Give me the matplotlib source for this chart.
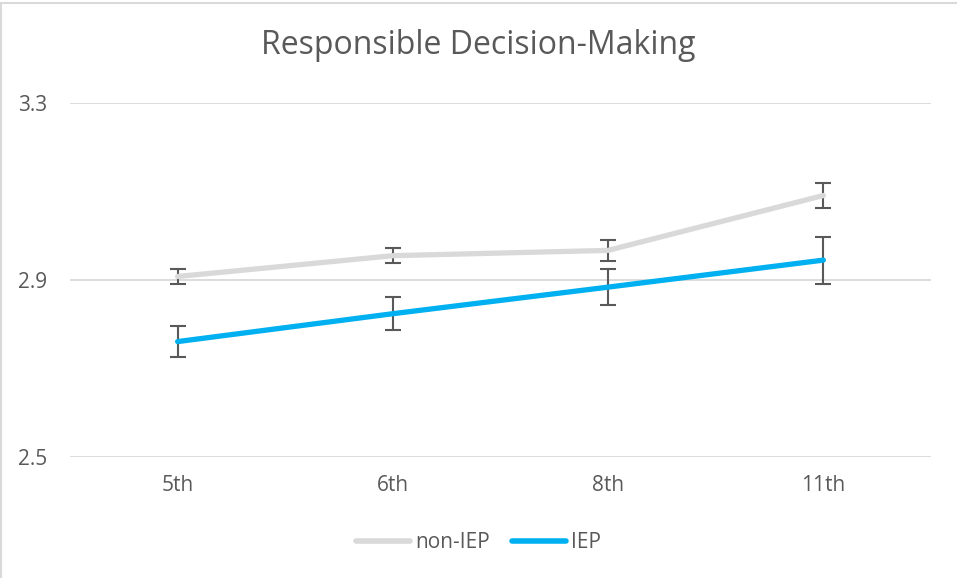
import matplotlib.pyplot as plt
from matplotlib.lines import Line2D

plt.rcParams['font.family'] = ['Open Sans', 'DejaVu Sans']

grades = ['5th', '6th', '8th', '11th']
non_iep = [2.907, 2.954, 2.966, 3.090]
non_iep_err = [0.016, 0.017, 0.023, 0.029]
iep = [2.760, 2.823, 2.883, 2.944]
iep_err = [0.035, 0.037, 0.041, 0.053]

text_color = '#595959'
grid_color = '#D9D9D9'

fig = plt.figure(figsize=(9.57, 5.78), dpi=100)
ax = fig.add_axes([70 / 957, 1 - 456.7 / 578, 861 / 957, (456.7 - 102.5) / 578])

x = range(len(grades))
ax.errorbar(x, non_iep, yerr=non_iep_err, color='#D9D9D9', lw=3.8,
            ecolor=text_color, elinewidth=1.5, capsize=5.5, capthick=1.5,
            solid_capstyle='round', label='non-IEP', zorder=3)
ax.errorbar(x, iep, yerr=iep_err, color='#00B0F0', lw=3.8,
            ecolor=text_color, elinewidth=1.5, capsize=5.5, capthick=1.5,
            solid_capstyle='round', label='IEP', zorder=3)

ax.set_xlim(-0.5, len(grades) - 0.5)
ax.set_ylim(2.5, 3.3)
ax.set_yticks([2.5, 2.9, 3.3])
ax.set_yticklabels(['2.5', '2.9', '3.3'])
ax.set_xticks(list(x))
ax.set_xticklabels(grades)
ax.tick_params(axis='both', length=0, labelsize=15, labelcolor=text_color)
ax.tick_params(axis='y', pad=16.5)
ax.tick_params(axis='x', pad=13)
ax.grid(axis='y', color=grid_color, lw=1.3)
ax.set_axisbelow(True)
for s in ax.spines.values():
    s.set_visible(False)

fig.text(0.5, 1 - 54 / 578, 'Responsible Decision-Making', ha='center', va='baseline',
         fontsize=23, color=text_color)

handles = [Line2D([], [], color='#D9D9D9', lw=4, solid_capstyle='round'),
           Line2D([], [], color='#00B0F0', lw=4, solid_capstyle='round')]
fig.legend(handles, ['non-IEP', 'IEP'], loc='center', bbox_to_anchor=(0.5, 1 - 543 / 578),
           ncol=2, frameon=False, fontsize=15, labelcolor=text_color,
           handlelength=2.6, handletextpad=0.25, columnspacing=1.05)

# chart border (top and left edges visible)
fig.add_artist(Line2D([1 / 957, 1 / 957], [0, 1 - 3 / 578], color=grid_color, lw=1.5))
fig.add_artist(Line2D([1 / 957, 1], [1 - 3 / 578, 1 - 3 / 578], color=grid_color, lw=1.5))

fig.savefig('out.png', dpi=100)
